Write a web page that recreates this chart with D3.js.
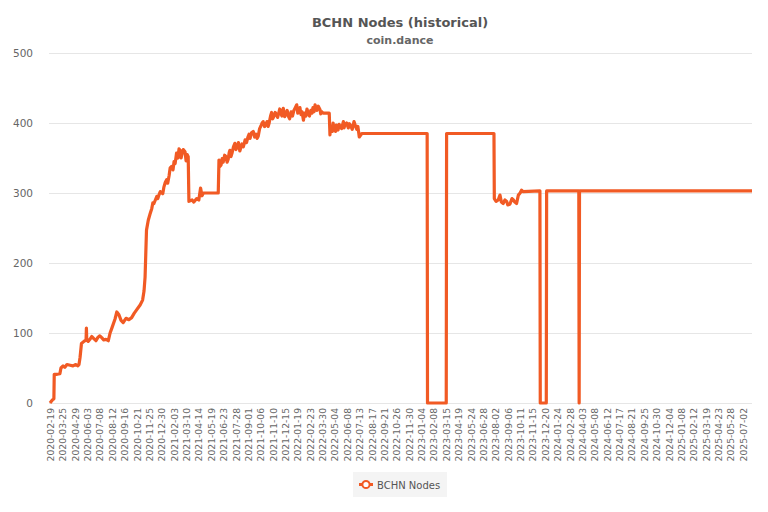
<!DOCTYPE html>
<html>
<head>
<meta charset="utf-8">
<script src="https://cdn.jsdelivr.net/npm/d3@7"></script>
<style>
  html, body { margin: 0; padding: 0; background: #fff; }
  svg { display: block; font-family: "DejaVu Sans", sans-serif; }
</style>
</head>
<body>
<svg id="chart" width="768" height="512"></svg>
<script>
// ---- data ----
const dates = [
  "2020-02-19","2020-02-22","2020-02-27","2020-03-01","2020-03-02","2020-03-10","2020-03-18","2020-03-21",
  "2020-03-27","2020-04-01","2020-04-07","2020-04-16","2020-04-24","2020-05-02","2020-05-08","2020-05-11",
  "2020-05-14","2020-05-18","2020-05-25","2020-05-31","2020-06-01","2020-06-02","2020-06-06","2020-06-11",
  "2020-06-16","2020-06-22","2020-06-28","2020-07-04","2020-07-09","2020-07-15","2020-07-20","2020-07-26",
  "2020-08-02","2020-08-07","2020-08-12","2020-08-21","2020-08-26","2020-09-01","2020-09-07","2020-09-13",
  "2020-09-21","2020-09-29","2020-10-07","2020-10-14","2020-10-21","2020-10-31","2020-11-07","2020-11-11",
  "2020-11-14","2020-11-18","2020-11-23","2020-11-28","2020-12-03","2020-12-06","2020-12-09","2020-12-13",
  "2020-12-17","2020-12-20","2020-12-23","2020-12-27","2020-12-31","2021-01-03","2021-01-06","2021-01-10",
  "2021-01-14","2021-01-17","2021-01-21","2021-01-24","2021-01-28","2021-02-01","2021-02-04","2021-02-07",
  "2021-02-11","2021-02-15","2021-02-18","2021-02-21","2021-02-24","2021-02-26","2021-03-02","2021-03-07",
  "2021-03-10","2021-03-13","2021-03-16","2021-03-18","2021-03-27","2021-04-01","2021-04-09","2021-04-15",
  "2021-04-20","2021-04-24","2021-04-28","2021-06-09","2021-06-11","2021-06-14","2021-06-17","2021-06-20",
  "2021-06-23","2021-06-27","2021-07-01","2021-07-04","2021-07-07","2021-07-10","2021-07-12","2021-07-15",
  "2021-07-18","2021-07-22","2021-07-26","2021-07-29","2021-08-01","2021-08-05","2021-08-09","2021-08-12",
  "2021-08-15","2021-08-19","2021-08-24","2021-08-28","2021-09-01","2021-09-04","2021-09-07","2021-09-11",
  "2021-09-16","2021-09-20","2021-09-24","2021-09-27","2021-09-30","2021-10-04","2021-10-08","2021-10-11",
  "2021-10-14","2021-10-18","2021-10-22","2021-10-25","2021-10-28","2021-10-31","2021-11-02","2021-11-04",
  "2021-11-07","2021-11-10","2021-11-14","2021-11-17","2021-11-21","2021-11-24","2021-11-28","2021-11-30",
  "2021-12-03","2021-12-06","2021-12-10","2021-12-14","2021-12-18","2021-12-21","2021-12-24","2021-12-28",
  "2022-01-01","2022-01-05","2022-01-09","2022-01-13","2022-01-17","2022-01-20","2022-01-23","2022-01-26",
  "2022-01-29","2022-02-01","2022-02-05","2022-02-08","2022-02-12","2022-02-15","2022-02-19","2022-02-22",
  "2022-02-26","2022-03-01","2022-03-04","2022-03-07","2022-03-10","2022-03-12","2022-03-15","2022-03-19",
  "2022-03-24","2022-03-26","2022-03-29","2022-04-02","2022-04-19","2022-04-21","2022-04-23","2022-04-25",
  "2022-04-28","2022-04-30","2022-05-02","2022-05-05","2022-05-07","2022-05-09","2022-05-12","2022-05-14",
  "2022-05-17","2022-05-19","2022-05-24","2022-05-29","2022-05-31","2022-06-02","2022-06-07","2022-06-12",
  "2022-06-15","2022-06-19","2022-06-23","2022-06-28","2022-07-02","2022-07-06","2022-07-09","2022-07-13",
  "2022-07-20","2023-01-21","2023-01-22","2023-03-16","2023-03-17","2023-07-29","2023-07-30","2023-08-04",
  "2023-08-10","2023-08-15","2023-08-19","2023-08-24","2023-08-29","2023-09-03","2023-09-06","2023-09-12",
  "2023-09-18","2023-09-22","2023-09-26","2023-10-01","2023-10-06","2023-10-11","2023-10-15","2023-10-19",
  "2023-12-06","2023-12-07","2023-12-24","2023-12-25","2024-03-25","2024-03-26","2024-03-27","2025-07-28"
];
const nodes = [
  0, 2, 5, 6, 41, 41, 42, 50,
  53, 51, 55, 54, 53, 55, 53, 55,
  65, 85, 88, 90, 107, 90, 88, 91,
  95, 92, 89, 94, 96, 93, 90, 91,
  89, 100, 107, 120, 130, 126, 118, 115,
  121, 119, 122, 128, 133, 140, 147, 160,
  180, 247, 261, 270, 278, 286, 285, 290,
  295, 292, 297, 302, 300, 299, 308, 315,
  319, 314, 325, 336, 338, 333, 345, 342,
  357, 350, 363, 361, 350, 355, 362, 359,
  346, 355, 352, 288, 290, 287, 292, 290,
  307, 296, 300, 300, 347, 338, 340, 349,
  344, 354, 352, 344, 348, 358, 361, 352,
  357, 366, 371, 362, 365, 372, 360, 365,
  370, 366, 376, 372, 380, 384, 378, 386,
  388, 380, 384, 378, 381, 392, 396, 400,
  402, 395, 398, 402, 395, 400, 405, 410,
  415, 406, 410, 415, 412, 408, 416, 420,
  414, 410, 421, 409, 414, 418, 410, 406,
  416, 410, 418, 422, 426, 414, 418, 422,
  412, 416, 404, 414, 410, 420, 414, 410,
  418, 414, 422, 416, 426, 421, 418, 424,
  419, 413, 416, 414, 414, 383, 396, 392,
  388, 400, 392, 394, 388, 397, 393, 390,
  398, 396, 392, 402, 393, 397, 400, 393,
  399, 396, 391, 402, 396, 391, 395, 380,
  385, 385, 0, 0, 385, 385, 292, 288,
  290, 297, 287, 285, 290, 288, 283, 284,
  292, 290, 287, 285, 297, 300, 304, 302,
  303, 0, 0, 303, 303, 0, 303, 303
];
const xTickLabels = [
  "2020-02-19","2020-03-25","2020-04-29","2020-06-03","2020-07-08","2020-08-12","2020-09-16","2020-10-21",
  "2020-11-25","2020-12-30","2021-02-03","2021-03-10","2021-04-14","2021-05-19","2021-06-23","2021-07-28",
  "2021-09-01","2021-10-06","2021-11-10","2021-12-15","2022-01-19","2022-02-23","2022-03-30","2022-05-04",
  "2022-06-08","2022-07-13","2022-08-17","2022-09-21","2022-10-26","2022-11-30","2023-01-04","2023-02-08",
  "2023-03-15","2023-04-19","2023-05-24","2023-06-28","2023-08-02","2023-09-06","2023-10-11","2023-11-15",
  "2023-12-20","2024-01-24","2024-02-28","2024-04-03","2024-05-08","2024-06-12","2024-07-17","2024-08-21",
  "2024-09-25","2024-10-30","2024-12-04","2025-01-08","2025-02-12","2025-03-19","2025-04-23","2025-05-28",
  "2025-07-02"
];
const yTicks = [0, 100, 200, 300, 400, 500];
const seriesName = "BCHN Nodes";
const titleText = "BCHN Nodes (historical)";
const subtitleText = "coin.dance";

// ---- drawing ----
(function () {
const parse = d3.utcParse("%Y-%m-%d");
const fmt = d3.utcFormat("%Y-%m-%d");
const data = dates.map((d, i) => ({ date: parse(d), value: nodes[i] }));

const svg = d3.select("#chart");
const plotL = 50, plotR = 752, plotT = 53, plotB = 403;
const color = "#f15a24";

const x = d3.scaleUtc()
  .domain([parse(dates[0]), parse(dates[dates.length - 1])])
  .range([plotL, plotR]);
const y = d3.scaleLinear().domain([0, 500]).range([plotB, plotT]);

// title
svg.append("text").attr("x", 400).attr("y", 27).attr("text-anchor", "middle")
  .attr("font-size", 13).attr("font-weight", "bold").attr("fill", "#555").text(titleText);
svg.append("text").attr("x", 400).attr("y", 44).attr("text-anchor", "middle")
  .attr("font-size", 11).attr("font-weight", "bold").attr("fill", "#666").text(subtitleText);

// y axis with grid
const yAxis = d3.axisLeft(y).tickValues(yTicks).tickSize(-(plotR - plotL + 1)).tickPadding(16);
const gy = svg.append("g").attr("transform", `translate(${plotL - 1},0)`).call(yAxis);
gy.select(".domain").remove();
gy.selectAll(".tick line").attr("stroke", "#e6e6e6");
gy.selectAll(".tick text").attr("fill", "#666").attr("font-size", 10.5)
  .attr("font-family", "DejaVu Sans, sans-serif");

// x axis
const xAxis = d3.axisBottom(x).tickValues(xTickLabels.map(parse)).tickFormat(fmt).tickSize(0);
const gx = svg.append("g").attr("transform", `translate(0.5,${plotB})`).call(xAxis);
gx.select(".domain").remove();
gx.selectAll(".tick text")
  .attr("fill", "#666").attr("font-size", 9.2).attr("font-family", "DejaVu Sans, sans-serif")
  .attr("text-anchor", "end")
  .attr("transform", "rotate(-90)")
  .attr("dy", "0.32em").attr("x", -5).attr("y", 0);

// line
const line = d3.line().x(d => x(d.date)).y(d => y(d.value)).curve(d3.curveLinear);
svg.append("path").datum(data)
  .attr("fill", "none").attr("stroke", color).attr("stroke-width", 3.2)
  .attr("stroke-linejoin", "round").attr("d", line);

// legend
const lg = svg.append("g");
lg.append("rect").attr("x", 353).attr("y", 472).attr("width", 94).attr("height", 25)
  .attr("fill", "#f4f4f4");
lg.append("line").attr("x1", 359).attr("x2", 373).attr("y1", 484.5).attr("y2", 484.5)
  .attr("stroke", color).attr("stroke-width", 3);
lg.append("circle").attr("cx", 366).attr("cy", 484.5).attr("r", 3.6)
  .attr("fill", "#fff").attr("stroke", color).attr("stroke-width", 2);
lg.append("text").attr("x", 377).attr("y", 488.5).attr("font-size", 10).attr("fill", "#555")
  .text(seriesName);
})();
</script>
</body>
</html>
